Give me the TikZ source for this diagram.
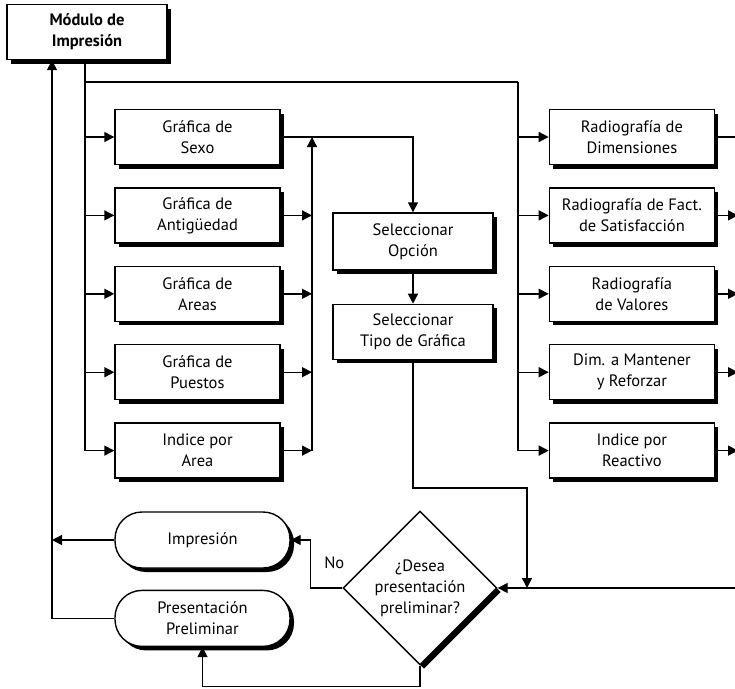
\documentclass[tikz,border=0pt]{standalone}
\usepackage{fontspec}
\setmainfont{PT Sans}
\usetikzlibrary{positioning,calc,shapes.geometric,shadows,arrows.meta}

\begin{document}
\begin{tikzpicture}[x=1pt,y=-1pt,node distance=22pt,line width=1.4pt,
  >={Triangle[length=10pt,width=10pt]},
  sombra/.style={drop shadow={shadow xshift=4pt,shadow yshift=-4pt,opacity=1,fill=black}},
  caja/.style={draw,fill=white,sombra,minimum width=165pt,minimum height=55pt,align=center,
    inner sep=2pt,font=\fontsize{16.5}{21}\selectfont},
  fin/.style={caja,rounded corners=27pt,minimum width=175pt,minimum height=56pt},
  decision/.style={caja,diamond,aspect=1,minimum width=154pt,minimum height=154pt,inner sep=0pt}]
\useasboundingbox (0,0) rectangle (735,688);
\node[caja,minimum width=160pt,font=\fontsize{16.5}{21}\selectfont\bfseries] (modulo) at (87,32) {Módulo de\\Impresión};
\node[caja]                   (sexo)  at (197.5,137) {Gráfica de\\Sexo};
\node[caja,below=of sexo]     (antig) {Gráfica de\\Antigüedad};
\node[caja,below=of antig]    (areas) {Gráfica de\\Areas};
\node[caja,below=of areas]    (puest) {Gráfica de\\Puestos};
\node[caja,below=of puest]    (idxa)  {Indice por\\Area};
\node[caja,right=268pt of sexo] (dimen) {Radiografía de\\Dimensiones};
\node[caja,below=of dimen]    (satis) {Radiografía de Fact.\\de Satisfacción};
\node[caja,below=of satis]    (valor) {Radiografía\\de Valores};
\node[caja,below=of valor]    (mante) {Dim. a Mantener\\y Reforzar};
\node[caja,below=of mante]    (idxr)  {Indice por\\Reactivo};
\node[caja,minimum width=160pt,minimum height=57pt] (opcion) at (413,241.5) {Seleccionar\\Opción};
\node[caja,minimum width=160pt,below=33pt of opcion] (tipo) {Seleccionar\\Tipo de Gráfica};
\node[decision]               (decide) at (420,588) {¿Desea\\presentación\\preliminar?};
\node[fin]                    (impr)  at (202.5,540) {Impresión};
\node[fin,below=21pt of impr] (prel)  {Presentación\\Preliminar};
\node[font=\fontsize{16.5}{21}\selectfont] (no) at ($(decide.west)+(-8,-25)$) {No};
\coordinate (rizq)  at (52,0);
\coordinate (rama)  at (85,82);
\coordinate (rder)  at (518,82);
\coordinate (rmed)  at (312,0);
\coordinate (borde) at (738,0);
\coordinate (union) at (527,488);
% salidas del modulo
\draw[->] (prel.west) -| (rizq |- modulo.south);
\draw[->] (impr.west) -- (impr.west -| rizq);
\draw (modulo.south -| rama) -- (rama) -- (rder);
\draw[->] (rama) |- (idxa.west);
\draw[->] (rder) |- (idxr.west);
\path[->]
	(rama |- sexo.west)  edge (sexo.west)
	(rama |- antig.west) edge (antig.west)
	(rama |- areas.west) edge (areas.west)
	(rama |- puest.west) edge (puest.west)
	(rder |- dimen.west) edge (dimen.west)
	(rder |- satis.west) edge (satis.west)
	(rder |- valor.west) edge (valor.west)
	(rder |- mante.west) edge (mante.west)
	(antig.east) edge (antig.east -| rmed)
	(areas.east) edge (areas.east -| rmed)
	(puest.east) edge (puest.east -| rmed)
	(idxa.east)  edge (idxa.east -| rmed)
	(satis.east) edge (satis.east -| borde)
	(valor.east) edge (valor.east -| borde)
	(mante.east) edge (mante.east -| borde)
	(idxr.east)  edge (idxr.east -| borde)
	(opcion)     edge (tipo)
; %-path-%
\draw (dimen.east) -- (dimen.east -| borde);
\draw[->] (idxa.east -| rmed) -- (sexo.east -| rmed);
\draw[->] (sexo.east) -| (opcion.north);
\draw[->] (tipo.south) |- (union) -- (union |- decide.east);
\draw[->] (borde |- decide.east) -- (decide.east);
\draw[->] (decide.west) -- ++(-32,0) |- (impr.east);
\draw[->] (decide.south) -- ++(0,21) -| (prel.south);
\end{tikzpicture}
\end{document}
